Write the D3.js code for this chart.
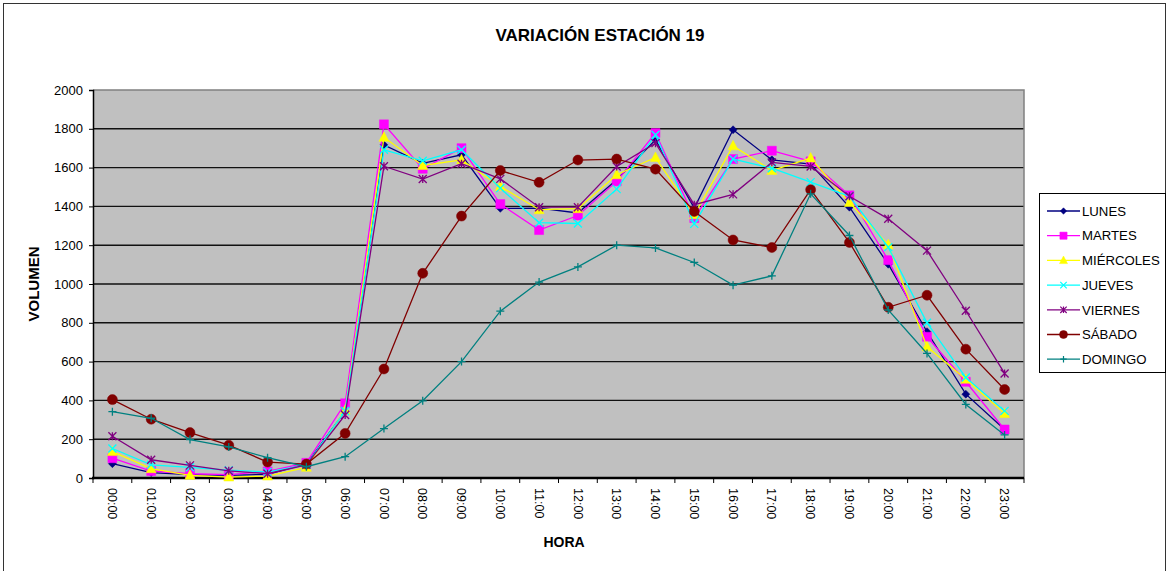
<!DOCTYPE html>
<html>
<head>
<meta charset="utf-8">
<script src="https://cdn.jsdelivr.net/npm/d3@7"></script>
<style>
  html, body { margin: 0; padding: 0; background: #fff; }
  svg { display: block; font-family: "Liberation Sans", Arial, sans-serif; }
</style>
</head>
<body>
<svg id="chart" width="1169" height="571"></svg>
<script>
// Hourly traffic volume per weekday at station 19
const horas = ["00:00","01:00","02:00","03:00","04:00","05:00","06:00","07:00","08:00","09:00","10:00","11:00",
               "12:00","13:00","14:00","15:00","16:00","17:00","18:00","19:00","20:00","21:00","22:00","23:00"];

const lunes     = [74, 28, 17, 14, 19, 72, 345, 1717, 1622, 1666, 1390, 1391, 1366, 1537, 1743, 1391, 1795, 1640, 1618, 1396, 1102, 754, 432, 250];
const martes    = [102, 36, 22, 17, 34, 78, 385, 1823, 1594, 1700, 1412, 1278, 1353, 1529, 1778, 1340, 1644, 1687, 1632, 1457, 1123, 728, 496, 250];
const miercoles = [136, 48, 14, 5, 10, 55, 350, 1756, 1611, 1640, 1503, 1383, 1388, 1563, 1652, 1357, 1712, 1585, 1649, 1420, 1202, 676, 509, 332];
const jueves    = [152, 68, 55, 40, 31, 68, 345, 1692, 1635, 1692, 1494, 1316, 1312, 1489, 1769, 1310, 1644, 1597, 1525, 1452, 1190, 800, 518, 346];
const viernes   = [215, 94, 65, 37, 22, 68, 325, 1607, 1541, 1620, 1542, 1396, 1396, 1606, 1726, 1409, 1462, 1627, 1606, 1452, 1336, 1172, 862, 539];
const sabado    = [404, 303, 234, 169, 82, 72, 230, 562, 1055, 1350, 1585, 1524, 1639, 1644, 1592, 1374, 1227, 1188, 1486, 1214, 880, 942, 664, 456];
const domingo   = [342, 308, 198, 160, 105, 58, 110, 255, 398, 600, 860, 1010, 1088, 1200, 1186, 1111, 994, 1042, 1465, 1250, 866, 642, 379, 222];

const yTicks = [0, 200, 400, 600, 800, 1000, 1200, 1400, 1600, 1800, 2000];

const series = [
  { name: "LUNES",     values: lunes,     color: "#000080", marker: "diamond" },
  { name: "MARTES",    values: martes,    color: "#FF00FF", marker: "square" },
  { name: "MIÉRCOLES", values: miercoles, color: "#FFFF00", marker: "triangle" },
  { name: "JUEVES",    values: jueves,    color: "#00FFFF", marker: "x" },
  { name: "VIERNES",   values: viernes,   color: "#800080", marker: "star" },
  { name: "SÁBADO",    values: sabado,    color: "#800000", marker: "circle" },
  { name: "DOMINGO",   values: domingo,   color: "#008080", marker: "plus" }
];

const svg = d3.select("#chart");

// chart frame
svg.append("rect")
  .attr("x", 3.5).attr("y", 3.5)
  .attr("width", 1162).attr("height", 600)
  .attr("fill", "#fff").attr("stroke", "#333").attr("stroke-width", 1);

const plot = { left: 93, right: 1024, top: 90, bottom: 478 };

const x = d3.scaleBand().domain(horas).range([plot.left, plot.right]).padding(0);
const y = d3.scaleLinear().domain([0, 2000]).range([plot.bottom, plot.top]);
const cx = h => x(h) + x.bandwidth() / 2;

// plot background
svg.append("rect")
  .attr("x", plot.left).attr("y", plot.top)
  .attr("width", plot.right - plot.left).attr("height", plot.bottom - plot.top)
  .attr("fill", "#C0C0C0");

// horizontal gridlines
svg.append("g").selectAll("line")
  .data(yTicks.filter(v => v > 0 && v < 2000))
  .join("line")
  .attr("x1", plot.left).attr("x2", plot.right)
  .attr("y1", d => y(d)).attr("y2", d => y(d))
  .attr("stroke", "#111").attr("stroke-width", 1.4);

// plot border (top / right)
svg.append("path")
  .attr("d", `M${plot.left},${plot.top}H${plot.right}V${plot.bottom}`)
  .attr("fill", "none").attr("stroke", "#808080").attr("stroke-width", 1.5);

// y axis
const yAxis = svg.append("g")
  .attr("transform", `translate(${plot.left},0)`)
  .call(d3.axisLeft(y).tickValues(yTicks).tickSize(4).tickPadding(6).tickFormat(d3.format("d")));
yAxis.select(".domain").attr("stroke", "#000").attr("stroke-width", 1.5);
yAxis.selectAll(".tick line").attr("stroke", "#000");
yAxis.selectAll(".tick text")
  .attr("font-size", 13).attr("fill", "#000")
  .attr("font-family", "'Liberation Sans', Arial, sans-serif");

// x axis: ticks between categories, rotated labels
const xAxisG = svg.append("g").attr("transform", `translate(0,${plot.bottom})`);
xAxisG.append("line")
  .attr("x1", plot.left - 1).attr("x2", plot.right)
  .attr("stroke", "#000").attr("stroke-width", 2.5);
xAxisG.selectAll("line.tk")
  .data(horas.concat(["end"]))
  .join("line").attr("class", "tk")
  .attr("x1", (d, i) => plot.left + i * x.step())
  .attr("x2", (d, i) => plot.left + i * x.step())
  .attr("y1", 0).attr("y2", 5)
  .attr("stroke", "#000").attr("stroke-width", 1);
xAxisG.selectAll("text")
  .data(horas)
  .join("text")
  .attr("transform", d => `translate(${cx(d)},10) rotate(90)`)
  .attr("dy", "0.35em")
  .attr("text-anchor", "start")
  .attr("font-size", 12.5)
  .attr("fill", "#000")
  .text(d => d);

// titles
svg.append("text")
  .attr("x", 600).attr("y", 41)
  .attr("text-anchor", "middle")
  .attr("font-size", 17).attr("font-weight", "bold")
  .text("VARIACIÓN ESTACIÓN 19");

svg.append("text")
  .attr("x", 564).attr("y", 547)
  .attr("text-anchor", "middle")
  .attr("font-size", 14).attr("font-weight", "bold")
  .text("HORA");

svg.append("text")
  .attr("transform", "translate(39,284) rotate(-90)")
  .attr("text-anchor", "middle")
  .attr("font-size", 15).attr("font-weight", "bold")
  .text("VOLUMEN");

// marker shapes
function markerPath(type, r) {
  switch (type) {
    case "diamond": return `M0,${-r}L${r},0L0,${r}L${-r},0Z`;
    case "square": return `M${-r},${-r}H${r}V${r}H${-r}Z`;
    case "triangle": return `M0,${-r * 1.1}L${r},${r * 0.8}L${-r},${r * 0.8}Z`;
    case "x": return `M${-r},${-r}L${r},${r}M${-r},${r}L${r},${-r}`;
    case "star": return `M${-r},${-r}L${r},${r}M${-r},${r}L${r},${-r}M0,${-r}V${r}`;
    case "plus": return `M${-r},0H${r}M0,${-r}V${r}`;
    case "circle": return d3.symbol(d3.symbolCircle, Math.PI * r * r)();
  }
}
const filled = t => ["diamond", "square", "triangle", "circle"].includes(t);
const markerSize = { diamond: 4, square: 4.5, triangle: 5, x: 4, star: 4, plus: 4, circle: 5 };

const line = d3.line().x((d, i) => cx(horas[i])).y(d => y(d));

series.forEach(s => {
  const g = svg.append("g");
  g.append("path")
    .attr("d", line(s.values))
    .attr("fill", "none")
    .attr("stroke", s.color)
    .attr("stroke-width", 1.3);
  g.selectAll("path.mk")
    .data(s.values)
    .join("path").attr("class", "mk")
    .attr("transform", (d, i) => `translate(${cx(horas[i])},${y(d)})`)
    .attr("d", markerPath(s.marker, markerSize[s.marker]))
    .attr("fill", filled(s.marker) ? s.color : "none")
    .attr("stroke", s.color)
    .attr("stroke-width", filled(s.marker) ? 0.5 : 1.3);
});

// legend
const legend = svg.append("g");
legend.append("rect")
  .attr("x", 1039.5).attr("y", 193.5)
  .attr("width", 126).attr("height", 179)
  .attr("fill", "#fff").attr("stroke", "#000").attr("stroke-width", 1);

series.forEach((s, i) => {
  const ly = 211 + i * 24.7;
  legend.append("line")
    .attr("x1", 1047).attr("x2", 1080).attr("y1", ly).attr("y2", ly)
    .attr("stroke", s.color).attr("stroke-width", 1.3);
  legend.append("path")
    .attr("transform", `translate(1063.5,${ly})`)
    .attr("d", markerPath(s.marker, markerSize[s.marker] * 0.8))
    .attr("fill", filled(s.marker) ? s.color : "none")
    .attr("stroke", s.color)
    .attr("stroke-width", filled(s.marker) ? 0.5 : 1.2);
  legend.append("text")
    .attr("x", 1082).attr("y", ly).attr("dy", "0.36em")
    .attr("font-size", 13.2).attr("fill", "#000")
    .text(s.name);
});
</script>
</body>
</html>
